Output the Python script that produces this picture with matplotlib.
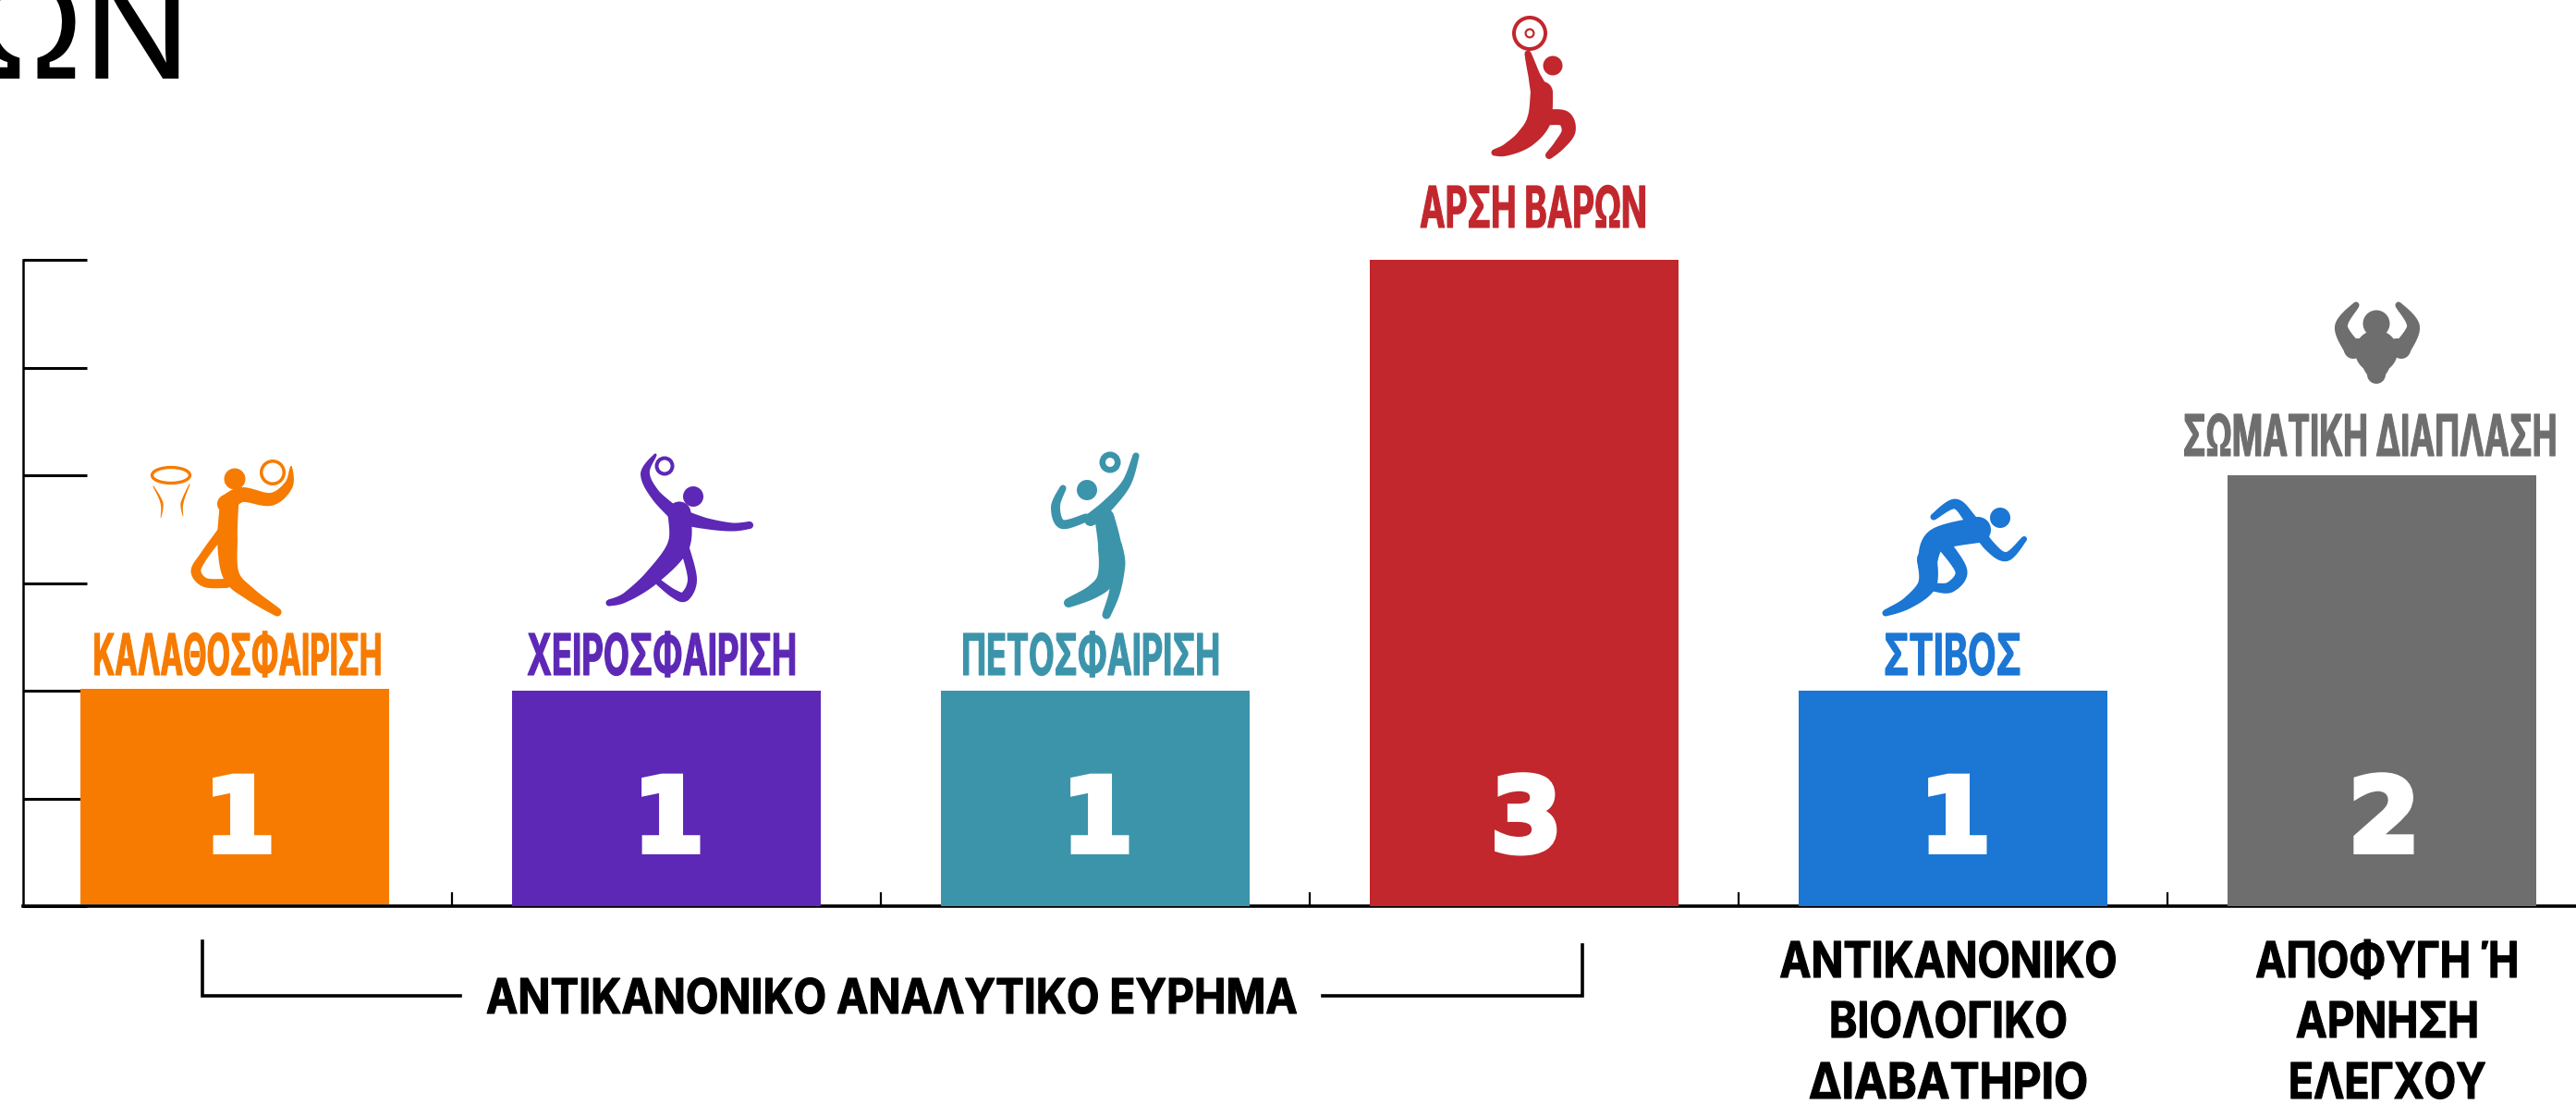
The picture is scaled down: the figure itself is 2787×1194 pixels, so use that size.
import numpy as np
import matplotlib
matplotlib.use("Agg")
import matplotlib.pyplot as plt
from matplotlib.patches import Circle, Ellipse
from matplotlib.patheffects import AbstractPathEffect, withStroke
from matplotlib.transforms import Affine2D, Bbox

plt.rcParams['font.family'] = ['Inter', 'DejaVu Sans']

sports = ["ΚΑΛΑΘΟΣΦΑΙΡΙΣΗ", "ΧΕΙΡΟΣΦΑΙΡΙΣΗ", "ΠΕΤΟΣΦΑΙΡΙΣΗ", "ΑΡΣΗ ΒΑΡΩΝ", "ΣΤΙΒΟΣ", "ΣΩΜΑΤΙΚΗ ΔΙΑΠΛΑΣΗ"]
cases = [1, 1, 1, 3, 1, 2]
colors = ["#F67B00", "#5C28B5", "#3C94AB", "#C1272D", "#1B76D4", "#6E6E6E"]
yticks = [0, 0.5, 1, 1.5, 2, 2.5, 3]
xticks = [0.5, 1.5, 2.5, 3.5, 4.5]
group_label = "ΑΝΤΙΚΑΝΟΝΙΚΟ ΑΝΑΛΥΤΙΚΟ ΕΥΡΗΜΑ"
passport_label = ["ΑΝΤΙΚΑΝΟΝΙΚΟ", "ΒΙΟΛΟΓΙΚΟ", "ΔΙΑΒΑΤΗΡΙΟ"]
refusal_label = ["ΑΠΟΦΥΓΗ Ή", "ΑΡΝΗΣΗ", "ΕΛΕΓΧΟΥ"]

W, H = 2787, 1194


class Squeeze(AbstractPathEffect):
    # the fonts here are too wide, so narrow the glyphs around their centre
    def __init__(self, sx, bold=0.8):
        super().__init__()
        self.sx = sx
        self.bold = bold

    def draw_path(self, renderer, gc, tpath, affine, rgbFace=None):
        v = affine.transform(tpath.vertices)
        cx = (v[:, 0].min() + v[:, 0].max()) / 2
        new = affine + Affine2D().translate(-cx, 0).scale(self.sx, 1).translate(cx, 0)
        gc0 = renderer.new_gc()
        gc0.copy_properties(gc)
        gc0.set_linewidth(self.bold)
        gc0.set_foreground(rgbFace)
        renderer.draw_path(gc0, tpath, new, rgbFace)
        gc0.restore()


fig = plt.figure(figsize=(W / 100, H / 100), dpi=100)
ax = fig.add_axes([25 / W, (H - 980) / H, (2809 - 25) / W, (980 - 281) / H])
# the first bar sits a touch off in the reference
ax.bar([-0.006, 1, 2, 3, 4, 5], cases, bottom=[0.01, 0, 0, 0, 0, 0], width=0.72, color=colors, zorder=3)
ax.set_xlim(-0.5, 5.5)
ax.set_ylim(0, 3)
ax.set_xticks(xticks)
ax.set_yticks(yticks)
ax.set_xticklabels([])
ax.set_yticklabels([])
ax.set_axisbelow(True)
ax.spines[['top', 'right']].set_visible(False)
ax.spines['left'].set_linewidth(1.8)
ax.spines['bottom'].set_linewidth(2.6)
ax.tick_params(axis='y', direction='in', length=50, width=2.2)
ax.tick_params(axis='x', direction='in', length=11, width=1.6)
for i, v in enumerate(cases):
    ax.text(i + 0.005, 0.385, str(v), color="white", ha='center', va='center',
            fontsize=80, fontweight='bold', family='DejaVu Sans', zorder=4,
            path_effects=[withStroke(linewidth=4.5, foreground="white", joinstyle='miter')])

# everything else is placed in picture pixels
ov = fig.add_axes([0, 0, 1, 1])
ov.set_xlim(0, W)
ov.set_ylim(H, 0)
ov.axis('off')
renderer = fig.canvas.get_renderer()


def label(x, base, s, color, cap, width):
    t = ov.text(x, base, s, color=color, ha='center', va='baseline',
                fontsize=cap / 0.727 * 0.72, fontweight='bold')
    full = t.get_window_extent(renderer)
    t.set_path_effects([Squeeze(width / full.width)])
    # extents follow the narrowed glyphs
    orig = t.get_window_extent

    def narrow(renderer=None, dpi=None):
        bb = orig(renderer, dpi)
        cx = (bb.x0 + bb.x1) / 2
        return Bbox.from_extents(cx - width / 2, bb.y0, cx + width / 2, bb.y1)
    t.get_window_extent = narrow
    return t


def limb(pts, widths, color):
    pts = np.array(pts, float)
    p = np.vstack([pts[0], pts, pts[-1]])
    out = []
    for i in range(1, len(p) - 2):
        for u in np.linspace(0, 1, 12, endpoint=False):
            out.append(0.5 * (2 * p[i] + (p[i + 1] - p[i - 1]) * u
                              + (2 * p[i - 1] - 5 * p[i] + 4 * p[i + 1] - p[i + 2]) * u ** 2
                              + (3 * p[i] - p[i - 1] - 3 * p[i + 1] + p[i + 2]) * u ** 3))
    out.append(pts[-1])
    out = np.array(out)
    w = np.interp(np.linspace(0, len(pts) - 1, len(out)), range(len(pts)), widths) / 2
    d = np.gradient(out, axis=0)
    n = np.c_[-d[:, 1], d[:, 0]] / np.maximum(np.hypot(d[:, 0], d[:, 1]), 1e-6)[:, None]
    poly = np.vstack([out + n * w[:, None], (out - n * w[:, None])[::-1]])
    ov.fill(poly[:, 0], poly[:, 1], color=color, lw=0)
    ov.add_patch(Circle(out[0], w[0], color=color, lw=0))
    ov.add_patch(Circle(out[-1], w[-1], color=color, lw=0))


def ball(x, y, r, color, ring=None):
    if ring is None:
        ov.add_patch(Circle((x, y), r, color=color, lw=0))
    else:
        ov.add_patch(Circle((x, y), r - ring / 2, fc='none', ec=color, lw=ring * 0.72))


# basketball
c = colors[0]
ball(254, 518, 11.5, c)
ball(295, 511, 14, c, 3.5)
limb([(245, 545), (262, 535), (293, 540), (312, 525), (315, 505)], [20, 16, 14, 10, 2], c)
limb([(248, 545), (246, 585), (250, 622), (270, 642), (300, 662)], [20, 22, 18, 14, 9], c)
limb([(240, 575), (220, 602), (212, 618), (222, 630), (245, 631)], [10, 9, 11, 10, 10], c)
ov.add_patch(Ellipse((185, 514), 41, 17, fc='none', ec=c, lw=2.4))
limb([(166, 526), (175, 544), (174, 560)], [1, 3, 0.5], c)
limb([(205, 524), (197, 544), (198, 558)], [1, 3, 0.5], c)

# handball
c = colors[1]
ball(750, 537, 11, c)
ball(719, 504, 10.5, c, 4)
limb([(709, 492), (698, 512), (709, 535), (733, 558)], [3, 10, 11, 16], c)
limb([(733, 558), (763, 566), (792, 570), (811, 568)], [18, 12, 9, 8], c)
limb([(735, 555), (734, 590), (706, 624), (677, 646), (659, 652)], [25, 24, 17, 10, 7], c)
limb([(740, 590), (749, 626), (741, 645), (729, 642), (713, 630)], [10, 10, 11, 9, 7], c)

# volleyball
c = colors[2]
ball(1176, 530, 11, c)
ball(1201, 500, 11.5, c, 6.5)
limb([(1229, 493), (1219, 522), (1200, 545), (1180, 562)], [7, 10, 13, 14], c)
limb([(1150, 528), (1142, 548), (1149, 567), (1175, 560)], [7, 10, 10, 9], c)
limb([(1195, 560), (1201, 595), (1197, 625), (1182, 640), (1156, 652)], [21, 26, 20, 15, 10], c)
limb([(1207, 590), (1210, 610), (1206, 640), (1197, 665)], [14, 15, 12, 9], c)

# weightlifting
c = colors[3]
ball(1655, 36, 19, c, 4)
ball(1655, 36, 5.5, c, 2.2)
ball(1680, 71, 10.5, c)
limb([(1653, 58), (1660, 82), (1668, 105)], [7, 13, 24], c)
limb([(1668, 100), (1665, 130), (1650, 150), (1630, 162), (1617, 165)], [24, 26, 21, 13, 7], c)
limb([(1672, 127), (1692, 128), (1697, 142), (1687, 157), (1676, 168)], [17, 17, 15, 12, 8], c)

# athletics
c = colors[4]
ball(2164, 560, 11, c)
limb([(2092, 559), (2115, 545), (2132, 562), (2152, 590), (2171, 602), (2190, 583)], [7, 11, 13, 12, 10, 6], c)
limb([(2140, 573), (2095, 584), (2085, 610)], [28, 25, 20], c)
limb([(2085, 605), (2085, 632), (2064, 652), (2040, 663)], [22, 20, 13, 7], c)
limb([(2104, 590), (2122, 618), (2110, 635), (2092, 635)], [15, 13, 12, 9], c)

# physique
c = colors[5]
ball(2571, 350, 14.5, c)
limb([(2549, 330), (2533, 353), (2546, 378)], [7, 14, 20], c)
limb([(2595, 330), (2611, 353), (2598, 378)], [7, 14, 20], c)
limb([(2550, 376), (2571, 378), (2594, 376)], [20, 18, 20], c)
limb([(2571, 380), (2571, 405)], [46, 20], c)

for s, col, x, base, width in zip(sports, colors,
                                  [258, 717, 1181, 1660, 2113, 2565],
                                  [730, 730, 730, 246, 730, 493],
                                  [313, 292, 280, 246, 149, 405]):
    label(x, base, s, col, 45, width)

# title runs off the picture
ov.text(208, 85, "ΩΝ", color="black", ha='right', va='baseline', fontsize=112,
        clip_on=False)

ov.plot([219, 219, 498], [1018, 1077, 1077], color="black", lw=2.6, solid_joinstyle='miter')
ov.plot([1431, 1712, 1712], [1077, 1077, 1022], color="black", lw=2.6, solid_joinstyle='miter')
label(965, 1096, group_label, "black", 38, 878)

for s, base, width in zip(passport_label, [1057, 1122, 1188], [365, 258, 302]):
    label(2108, base, s, "black", 39, width)
for s, base, width in zip(refusal_label, [1057, 1122, 1188], [285, 198, 214]):
    label(2583, base, s, "black", 39, width)

fig.savefig("out.png", dpi=100)
